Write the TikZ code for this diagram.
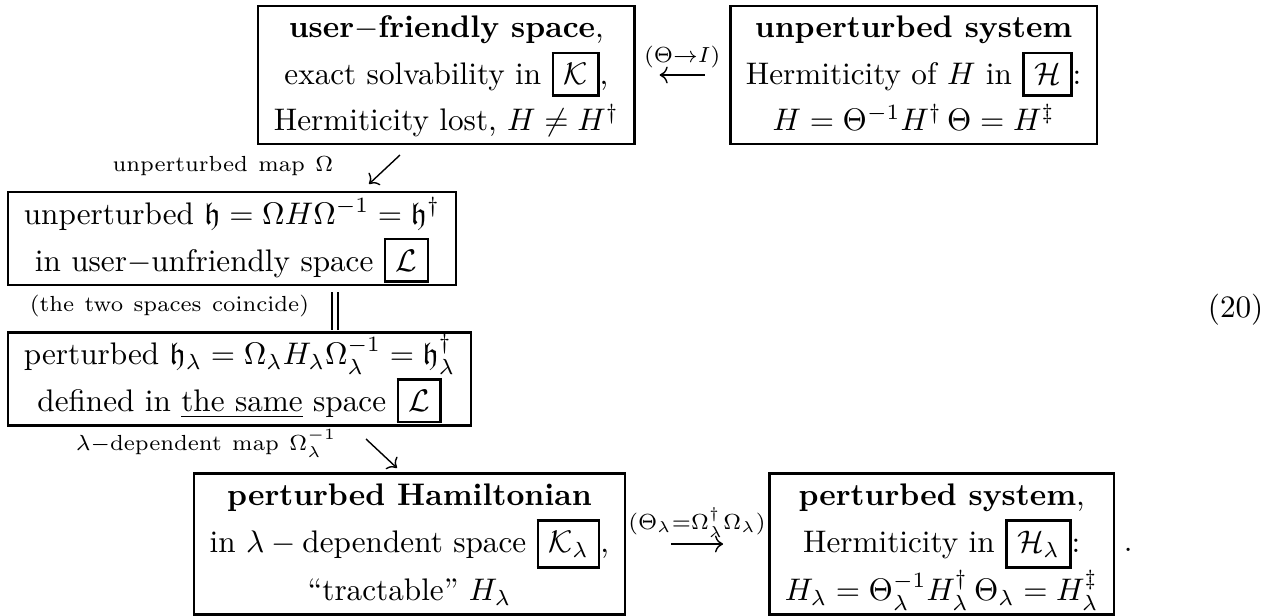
\documentclass[tikz,border=0pt]{standalone}
\usepackage{amsmath,amssymb}
\usetikzlibrary{arrows.meta,calc}
\renewcommand{\arraystretch}{1.22}
\setlength{\tabcolsep}{5pt}
\setlength{\fboxrule}{0.8pt}

\begin{document}
\begin{tikzpicture}[x=0.3205pt,y=-0.3205pt,>={Computer Modern Rightarrow},
  box/.style={draw,line width=0.8pt,inner sep=0pt},
  lbl/.style={inner sep=0pt},
  arr/.style={->,line width=0.45pt}]
  \useasboundingbox (0,0) rectangle (1270,615);
  % top row
  \node[box,anchor=west] (user) at (257,75) {\begin{tabular}{c}
    \textbf{user$-$friendly space},\\
    exact solvability in \fbox{$\mathcal{K}$},\\
    Hermiticity lost, $H\neq H^\dagger$
  \end{tabular}};
  \node[box,anchor=west] (sys) at (729,75) {\begin{tabular}{c}
    \textbf{unperturbed system}\\
    Hermiticity of $H$ in \fbox{$\mathcal{H}$}:\\
    $H=\Theta^{-1}H^\dagger\,\Theta=H^\ddagger$
  \end{tabular}};
  \draw[arr,shorten <=7.7pt,shorten >=7.7pt] (sys.west) --
    node[lbl,above=2pt] (thetaI) {$\scriptstyle(\Theta\to I)$} (user.east);
  % unperturbed map
  \coordinate (swTop) at (400,155);
  \coordinate (swBot) at (369,184);
  \draw[arr] (swTop) -- (swBot);
  \node[lbl,anchor=base east] (mapA) at (334,171) {$\scriptstyle\mathrm{unperturbed\ map}\ \Omega$};
  \node[box,anchor=west] (unpert) at (7,238.5) {\begin{tabular}{c}
    unperturbed $\mathfrak{h}=\Omega H\Omega^{-1}=\mathfrak{h}^\dagger$\\
    in user$-$unfriendly space \fbox{$\mathcal{L}$}
  \end{tabular}};
  % same space
  \coordinate (eqTop) at (335,292);
  \coordinate (eqBot) at (335,330);
  \draw[line width=0.45pt,double distance=1.6pt] (eqTop) -- (eqBot);
  \node[lbl,anchor=base east] (same) at (310,311) {$\scriptstyle\mathrm{(the\ two\ spaces\ coincide)}$};
  \node[box,anchor=west] (pertL) at (7,379) {\begin{tabular}{c}
    perturbed $\mathfrak{h}_\lambda=\Omega_\lambda H_\lambda\Omega_\lambda^{-1}=\mathfrak{h}_\lambda^\dagger$\\
    defined in \underline{the same} space \fbox{$\mathcal{L}$}
  \end{tabular}};
  % lambda map
  \coordinate (seTop) at (366,439);
  \coordinate (seBot) at (397,468);
  \draw[arr] (seTop) -- (seBot);
  \node[lbl,anchor=base east] (mapB) at (337,450) {$\scriptstyle\lambda-\mathrm{dependent\ map}\ \Omega_\lambda^{-1}$};
  % bottom row
  \node[box,anchor=east] (ham) at (626,544) {\begin{tabular}{c}
    \textbf{perturbed Hamiltonian}\\
    in $\lambda-{}$dependent space \fbox{$\mathcal{K}_\lambda$},\\
    ``tractable'' $H_\lambda$
  \end{tabular}};
  \node[box,anchor=west] (pertsys) at (768,544) {\begin{tabular}{c}
    \textbf{perturbed system},\\
    Hermiticity in \fbox{$\mathcal{H}_\lambda$}:\\
    $H_\lambda=\Theta_\lambda^{-1}H_\lambda^\dagger\,\Theta_\lambda=H_\lambda^\ddagger$
  \end{tabular}};
  \draw[arr,shorten <=14.4pt,shorten >=14.4pt] (ham.east) --
    node[lbl,above=2pt] (thetaL) {$\scriptstyle(\Theta_\lambda=\Omega_\lambda^\dagger\Omega_\lambda)$} (pertsys.west);
  \node[lbl,anchor=base west] (stop) at ([xshift=2.5pt,yshift=-2.5pt]pertsys.east) {.};
  \node[lbl,anchor=base east] (eqno) at (1264,317) {(20)};
\end{tikzpicture}
\end{document}
